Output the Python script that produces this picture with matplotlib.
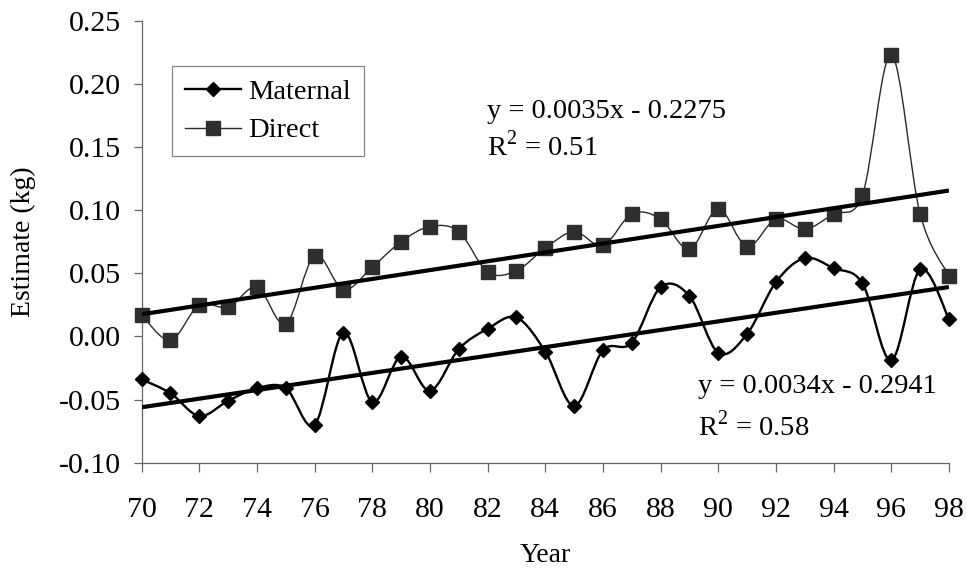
import numpy as np
import matplotlib
matplotlib.use("Agg")
import matplotlib.pyplot as plt
from matplotlib.path import Path
from matplotlib.patches import PathPatch
from matplotlib.lines import Line2D
from matplotlib.ticker import FormatStrFormatter, MultipleLocator

plt.rcParams["font.family"] = ["Liberation Serif", "DejaVu Serif"]
plt.rcParams["mathtext.fontset"] = "custom"
plt.rcParams["mathtext.rm"] = "Liberation Serif"
plt.rcParams["axes.unicode_minus"] = False

# breeding values by year of birth (kg)
years = list(range(70, 99))
maternal = [-0.034, -0.045, -0.063, -0.051, -0.041, -0.041, -0.070, 0.003,
            -0.052, -0.016, -0.043, -0.010, 0.006, 0.015, -0.012, -0.055,
            -0.011, -0.005, 0.039, 0.032, -0.013, 0.002, 0.043, 0.062,
            0.054, 0.042, -0.019, 0.053, 0.014]
direct = [0.017, -0.003, 0.025, 0.023, 0.039, 0.010, 0.064, 0.037,
          0.055, 0.075, 0.087, 0.083, 0.051, 0.052, 0.070, 0.083,
          0.072, 0.097, 0.093, 0.069, 0.101, 0.071, 0.093, 0.085,
          0.097, 0.112, 0.223, 0.097, 0.048]

# linear trends as reported
direct_fit = (0.0035, -0.2275, 0.51)
maternal_fit = (0.0034, -0.2941, 0.58)


def smooth_path(x, y):
    # cardinal bezier through every point, like a spreadsheet "smoothed line"
    pts = np.column_stack([x, y]).astype(float)
    n = len(pts)
    verts = [pts[0]]
    codes = [Path.MOVETO]
    for i in range(n - 1):
        p0 = pts[max(i - 1, 0)]
        p1 = pts[i]
        p2 = pts[i + 1]
        p3 = pts[min(i + 2, n - 1)]
        verts += [p1 + (p2 - p0) / 6.0, p2 - (p3 - p1) / 6.0, p2]
        codes += [Path.CURVE4] * 3
    return Path(verts, codes)


fig = plt.figure(figsize=(9.67, 5.76), dpi=100)
ax = fig.add_axes([0.1465, 0.1967, 0.8348, 0.7674])

ax.add_patch(PathPatch(smooth_path(years, maternal), fill=False,
                       edgecolor="black", lw=1.7, zorder=2))
ax.add_patch(PathPatch(smooth_path(years, direct), fill=False,
                       edgecolor="#2a2a2a", lw=1.0, zorder=2))

ax.plot(years, maternal, ls="none", marker="D", ms=7.5, color="black",
        zorder=3, clip_on=False)
ax.plot(years, direct, ls="none", marker="s", ms=10.5, color="#2e2e2e",
        zorder=3, clip_on=False)

xs = np.array([years[0], years[-1]])
for slope, icpt, r2 in (direct_fit, maternal_fit):
    ax.plot(xs, slope * xs + icpt, color="black", lw=3.0, zorder=4,
            solid_capstyle="butt")

ax.text(81.97, 0.1727, "y = %.4fx - %.4f" % (direct_fit[0], -direct_fit[1]),
        fontsize=20.5, va="baseline", ha="left")
ax.text(81.97, 0.1434, r"R$^{\mathregular{2}}$ = %.2f" % direct_fit[2],
        fontsize=20.5, va="baseline", ha="left")
ax.text(89.31, -0.0452, "y = %.4fx - %.4f" % (maternal_fit[0], -maternal_fit[1]),
        fontsize=20.5, va="baseline", ha="left")
ax.text(89.31, -0.0785, r"R$^{\mathregular{2}}$ = %.2f" % maternal_fit[2],
        fontsize=20.5, va="baseline", ha="left")

ax.set_xlim(70, 98)
ax.set_ylim(-0.10, 0.25)
ax.xaxis.set_major_locator(MultipleLocator(2))
ax.yaxis.set_major_locator(MultipleLocator(0.05))
ax.yaxis.set_major_formatter(FormatStrFormatter("%.2f"))

for side in ("top", "right"):
    ax.spines[side].set_visible(False)
for side in ("left", "bottom"):
    ax.spines[side].set_color("#666666")
    ax.spines[side].set_linewidth(0.9)
ax.tick_params(axis="both", direction="out", color="#666666", width=0.9,
               labelsize=21.5)
ax.tick_params(axis="x", length=6.5, pad=18)
ax.tick_params(axis="y", length=6, pad=9)

fig.text(23 / 967, 1 - 241.7 / 576, "Estimate (kg)", rotation=90,
         ha="center", va="center", fontsize=20)
fig.text(545 / 967, 1 - 556 / 576, "Year", ha="center", va="center",
         fontsize=20)

handles = [
    Line2D([], [], color="black", lw=1.7, marker="D", ms=7.5),
    Line2D([], [], color="#2a2a2a", lw=1.0, marker="s", ms=10.5,
           markerfacecolor="#2e2e2e", markeredgecolor="#2e2e2e"),
]
leg = fig.legend(handles, ["Maternal", "Direct"], loc="upper left",
                 bbox_to_anchor=(171.7 / 967, 1 - 66 / 576), fontsize=20.5,
                 frameon=True, fancybox=False, shadow=False, numpoints=1,
                 handlelength=2.0, handletextpad=0.25, borderpad=0.45,
                 labelspacing=0.45, borderaxespad=0)
leg.get_frame().set_edgecolor("#666666")
leg.get_frame().set_linewidth(0.9)

fig.savefig("out.png", dpi=100, facecolor="white")
